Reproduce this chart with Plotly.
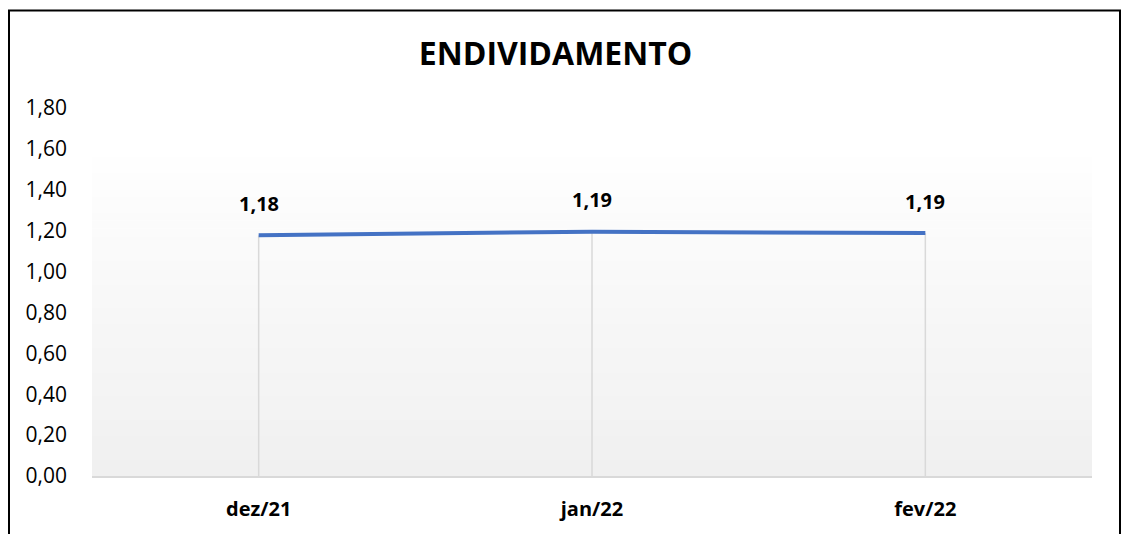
import plotly.graph_objects as go

# ---- data ----
categories = ["dez/21", "jan/22", "fev/22"]
values = [1.177, 1.195, 1.188]
label_texts = ["1,18", "1,19", "1,19"]
y_tickvals = [0, 0.2, 0.4, 0.6, 0.8, 1.0, 1.2, 1.4, 1.6, 1.8]
y_ticktext = ["0,00", "0,20", "0,40", "0,60", "0,80", "1,00", "1,20", "1,40", "1,60", "1,80"]

FONT = "Open Sans"
W, H = 1122, 534
ML, MR, MT, MB = 92, 30, 108, 56

fig = go.Figure()

# drop lines from each point to the axis
drop_x, drop_y = [], []
for c, v in zip(categories, values):
    drop_x += [c, c, None]
    drop_y += [0, v, None]
fig.add_trace(go.Scatter(x=drop_x, y=drop_y, mode="lines",
                         line=dict(color="#d9d9d9", width=1.5),
                         hoverinfo="skip", showlegend=False))

# main line
fig.add_trace(go.Scatter(x=categories, y=values, mode="lines",
                         line=dict(color="#4472C4", width=4),
                         showlegend=False))

# data labels
for c, v, t in zip(categories, values, label_texts):
    fig.add_annotation(x=c, y=v, text=f"<b>{t}</b>", showarrow=False,
                       yshift=32, yanchor="middle",
                       font=dict(family=FONT, size=20, color="#000000"))

# gradient plot-area background
plot_h = H - MT - MB
grad_top = (478 - 157) / plot_h
n = 40
top_rgb = (254, 254, 254)
bot_rgb = (240, 240, 240)
shapes = []
for i in range(n):
    t = i / (n - 1)
    r = round(bot_rgb[0] + (top_rgb[0] - bot_rgb[0]) * t)
    g = round(bot_rgb[1] + (top_rgb[1] - bot_rgb[1]) * t)
    b = round(bot_rgb[2] + (top_rgb[2] - bot_rgb[2]) * t)
    y0 = grad_top * i / n
    y1 = grad_top * (i + 1) / n + 0.001
    shapes.append(dict(type="rect", xref="paper", yref="paper",
                       x0=0, x1=1, y0=y0, y1=min(y1, grad_top),
                       fillcolor=f"rgb({r},{g},{b})", line=dict(width=0),
                       layer="below"))

# outer chart border
plot_w = W - ML - MR
shapes.append(dict(type="rect", xref="paper", yref="paper",
                   x0=(9 - ML) / plot_w, x1=(1120 - ML) / plot_w,
                   y0=(478 - 560) / plot_h, y1=(478 - 10) / plot_h,
                   line=dict(color="#000000", width=2), fillcolor="rgba(0,0,0,0)",
                   layer="above"))

fig.update_layout(
    width=W, height=H,
    margin=dict(l=ML, r=MR, t=MT, b=MB),
    paper_bgcolor="#ffffff",
    plot_bgcolor="rgba(0,0,0,0)",
    shapes=shapes,
    title=dict(text="<b>ENDIVIDAMENTO</b>", xref="container", yref="container",
               x=555.5 / W, y=1 - 54 / H, xanchor="center", yanchor="middle",
               font=dict(family=FONT, size=32, color="#000000")),
    xaxis=dict(type="category", range=[-0.5, 2.5], showgrid=False,
               showline=True, linecolor="#d9d9d9", linewidth=1.5,
               ticks="", zeroline=False,
               tickfont=dict(family=FONT, size=20, color="#000000"),
               ticklabelstandoff=14,
               tickmode="array", tickvals=categories,
               ticktext=[f"<b>{c}</b>" for c in categories]),
    yaxis=dict(range=[0, 1.8], showgrid=False, zeroline=False, showline=False,
               tickmode="array", tickvals=y_tickvals, ticktext=y_ticktext,
               ticks="", ticklabelstandoff=24,
               tickfont=dict(family=FONT, size=21, color="#000000")),
)

fig.write_html("out.html", config={"displayModeBar": False},
               post_script="document.body.style.margin='0';document.body.style.overflow='hidden';")
